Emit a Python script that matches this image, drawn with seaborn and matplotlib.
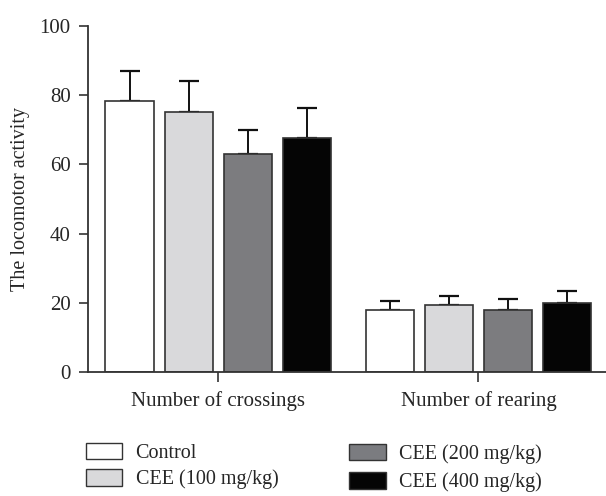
import matplotlib
matplotlib.use("Agg")
import matplotlib.pyplot as plt
from matplotlib.patches import Patch
import seaborn as sns
import pandas as pd
import numpy as np

categories = ["Number of crossings", "Number of rearing"]
groups = ["Control", "CEE (100 mg/kg)", "CEE (200 mg/kg)", "CEE (400 mg/kg)"]
control_mean = [78.4, 18.0]
cee100_mean = [75.1, 19.3]
cee200_mean = [63.0, 17.8]
cee400_mean = [67.6, 19.9]
control_err = [8.5, 2.5]
cee100_err = [8.9, 2.7]
cee200_err = [6.9, 3.2]
cee400_err = [8.8, 3.4]
colors = ["#ffffff", "#d9d9db", "#7b7c80", "#050505"]
y_ticks = [0, 20, 40, 60, 80, 100]

means = [control_mean, cee100_mean, cee200_mean, cee400_mean]
errs = [control_err, cee100_err, cee200_err, cee400_err]

rows = []
for g, m in zip(groups, means):
    for c, v in zip(categories, m):
        rows.append({"measure": c, "group": g, "value": v})
df = pd.DataFrame(rows)

sns.set_style("ticks")
plt.rcParams["font.family"] = ["Liberation Serif", "DejaVu Serif"]

fig = plt.figure(figsize=(6.06, 4.96), dpi=100)
ax = fig.add_axes([88 / 606, 124 / 496, 1 - 88 / 606, 346 / 496])

sns.barplot(data=df, x="measure", y="value", hue="group", order=categories,
            hue_order=groups, palette=dict(zip(groups, colors)),
            width=0.908, gap=0.186, edgecolor="#333333", linewidth=1.2,
            errorbar=None, legend=False, ax=ax, zorder=2)

for cont, e in zip(ax.containers, errs):
    xs = [b.get_x() + b.get_width() / 2 for b in cont]
    hs = [b.get_height() for b in cont]
    ax.errorbar(xs, hs, yerr=[np.zeros(len(e)), e], fmt="none",
                ecolor="#111111", elinewidth=1.4, capsize=7.2,
                capthick=1.6, zorder=1)

ax.set_ylim(0, 100)
ax.set_yticks(y_ticks)
ax.set_xlim(-0.5, 1.49)
ax.set_xlabel("")
ax.set_ylabel("The locomotor activity", fontsize=14.5, labelpad=7)
ax.tick_params(axis="y", labelsize=15, length=6.5, width=1.2, color="#333333", pad=6)
ax.tick_params(axis="x", labelsize=15, length=7, width=1.2, color="#333333", pad=7)
sns.despine(ax=ax)
for s in ["left", "bottom"]:
    ax.spines[s].set_linewidth(1.3)
    ax.spines[s].set_color("#333333")

h1 = [Patch(facecolor=colors[i], edgecolor="#333333", linewidth=1.0) for i in (0, 1)]
h2 = [Patch(facecolor=colors[i], edgecolor="#333333", linewidth=1.0) for i in (2, 3)]
leg1 = fig.legend(h1, groups[:2], loc="center left", bbox_to_anchor=(86 / 606, 1 - 466 / 496),
                  frameon=False, fontsize=14.5, handlelength=1.8, handleheight=0.9,
                  handletextpad=0.66, labelspacing=0.3, borderaxespad=0, borderpad=0)
leg2 = fig.legend(h2, groups[2:], loc="center left", bbox_to_anchor=(349 / 606, 1 - 468 / 496),
                  frameon=False, fontsize=14.5, handlelength=1.85, handleheight=0.9,
                  handletextpad=0.63, labelspacing=0.4, borderaxespad=0, borderpad=0)

fig.savefig("out.png", dpi=100)
